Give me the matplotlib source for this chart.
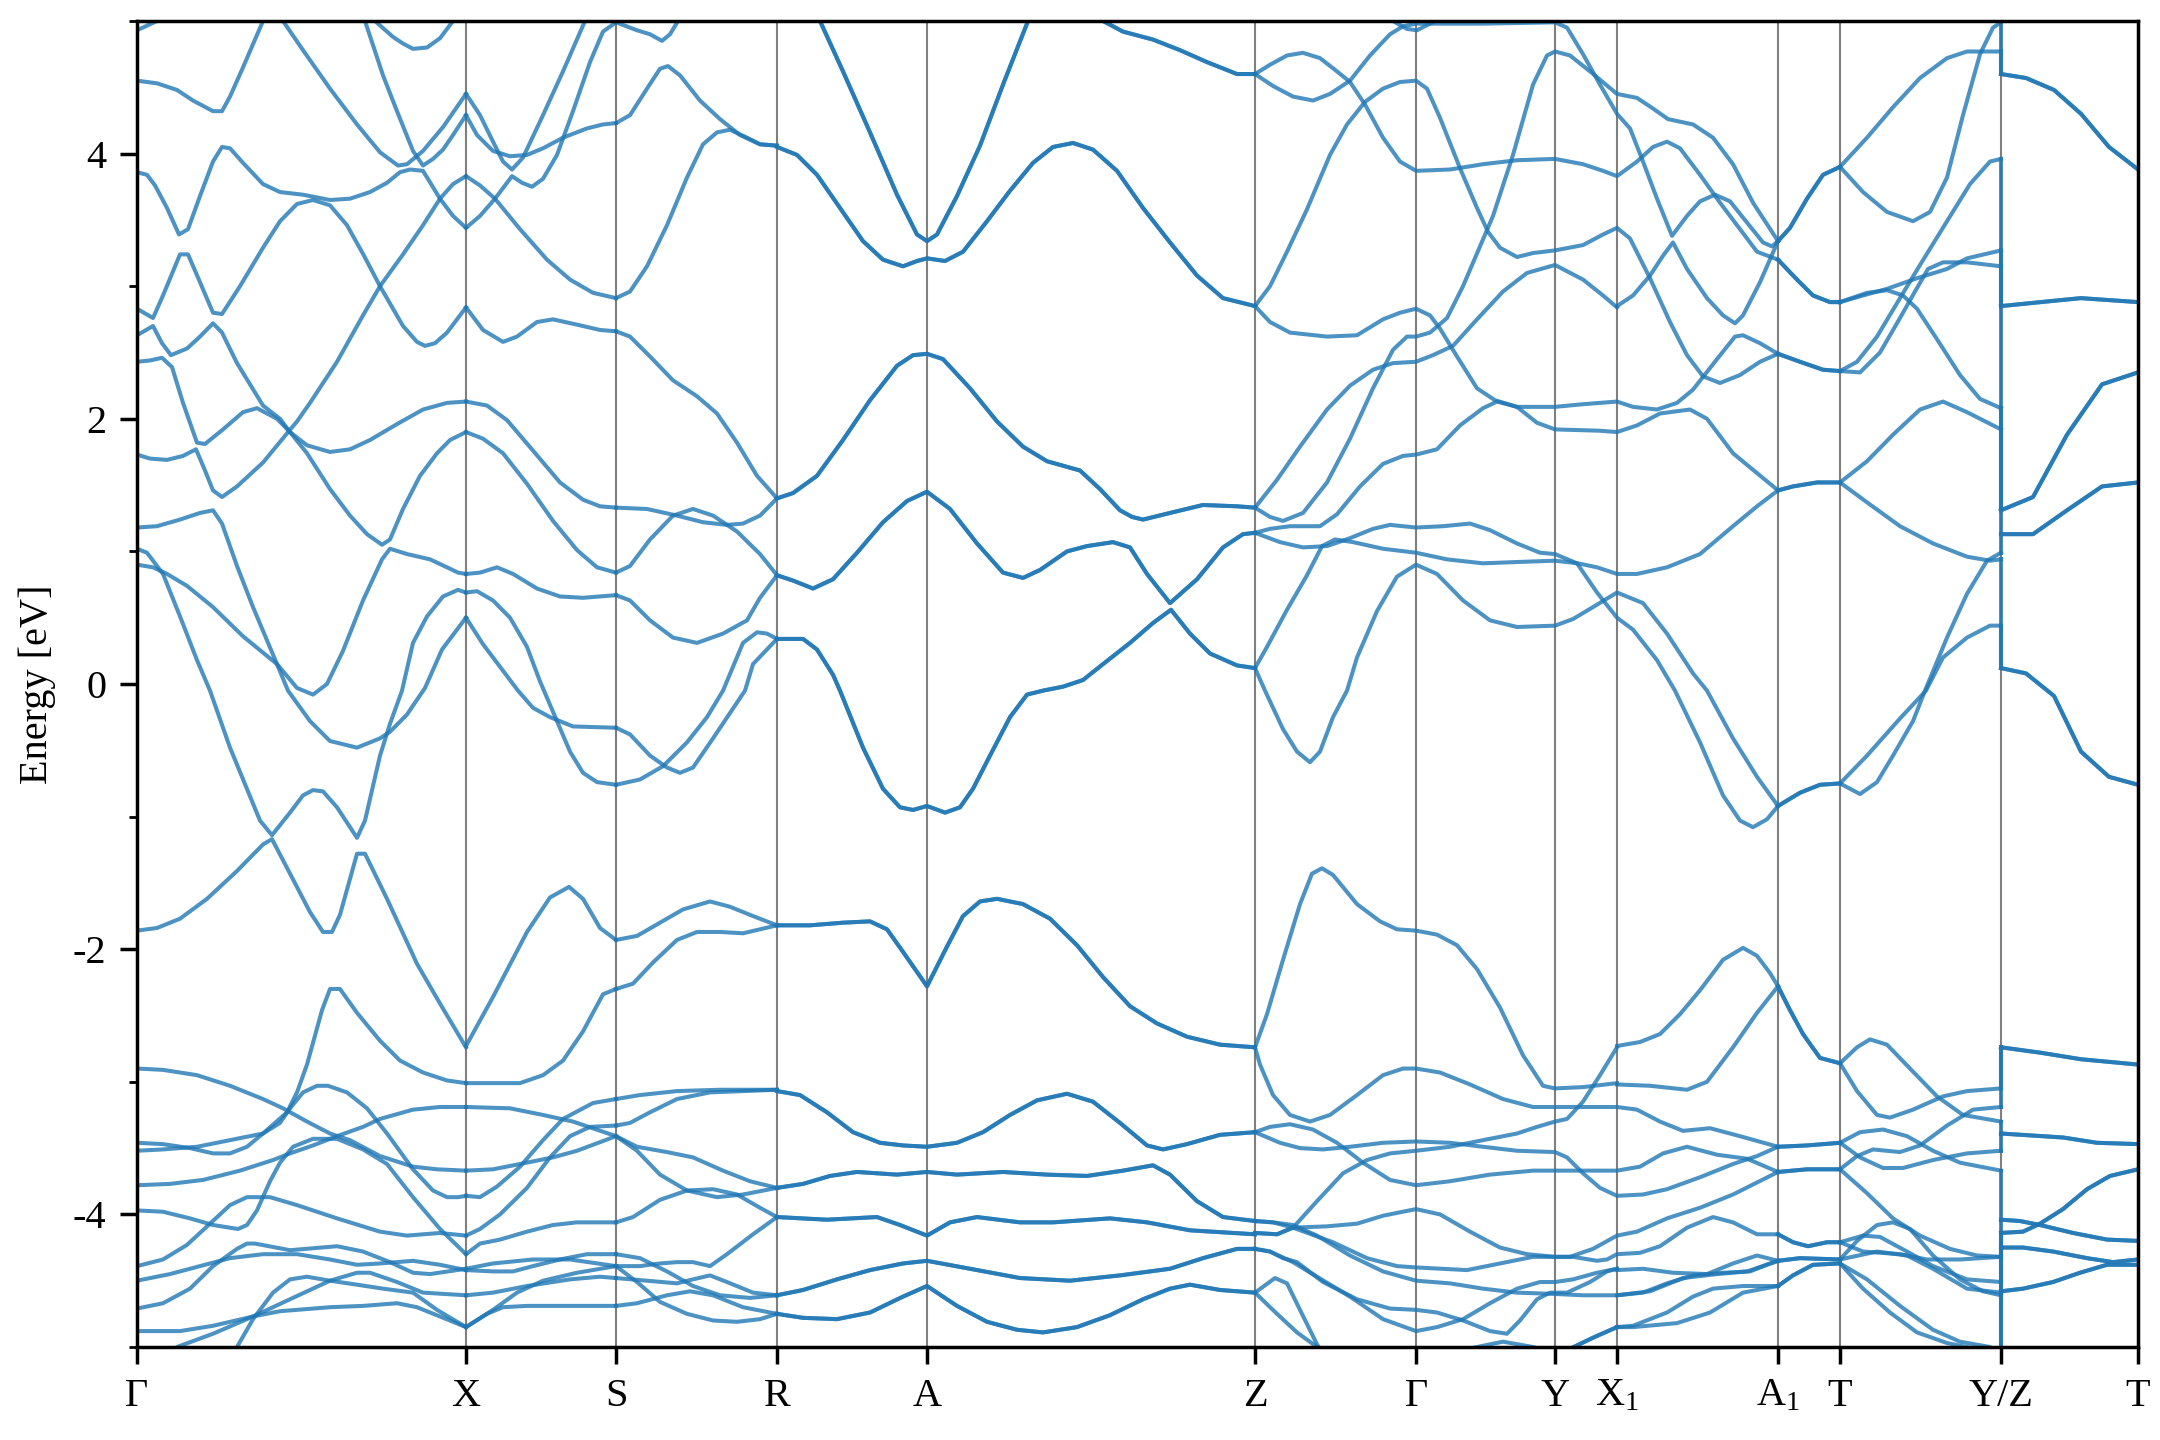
import matplotlib
matplotlib.use('Agg')
import matplotlib.pyplot as plt
from matplotlib.ticker import MultipleLocator

plt.rcParams['font.family'] = 'Liberation Serif'
plt.rcParams['mathtext.fontset'] = 'custom'
plt.rcParams['mathtext.rm'] = 'Liberation Serif'
plt.rcParams['mathtext.default'] = 'rm'
plt.rcParams['axes.unicode_minus'] = False

# high symmetry points along the k path
K_TICKS = [0, 329, 479, 640, 790, 1118, 1279, 1418, 1480, 1641, 1703, 1864, 2001]
K_LABELS = ['Γ', 'X', 'S', 'R', 'A', 'Z', 'Γ', 'Y', 'X$_1$', 'A$_1$', 'T', 'Y/Z', 'T']

# bands, each one is (k values, energies in eV)
BANDS_GAMMA_X = [
    ([0, 20, 40], [4.93, 5.0, 5.2]),
    ([0, 20, 40, 56, 76, 85, 93, 106, 126, 136, 146, 166, 193, 220, 243, 261, 270, 286, 306, 329],
     [4.55, 4.53, 4.48, 4.40, 4.32, 4.32, 4.43, 4.65, 5.0, 5.1, 5.0, 4.78, 4.49, 4.22, 4.01, 3.91, 3.92, 4.02, 4.20, 4.45]),
    ([223, 228, 246, 260, 276, 286, 296, 306, 316, 329],
     [5.15, 5.0, 4.59, 4.32, 4.02, 3.91, 3.96, 4.03, 4.14, 4.29]),
    ([230, 238, 256, 266, 276, 290, 303, 316, 325],
     [5.12, 5.0, 4.88, 4.83, 4.79, 4.80, 4.87, 5.0, 5.12]),
    ([0, 10, 18, 30, 42, 51, 63, 76, 85, 93, 106, 126, 143, 166, 193, 213, 233, 250, 263, 273, 286, 303, 316, 329],
     [3.86, 3.84, 3.76, 3.59, 3.39, 3.43, 3.68, 3.94, 4.05, 4.04, 3.93, 3.77, 3.71, 3.69, 3.65, 3.66, 3.71, 3.78, 3.86, 3.88, 3.87, 3.66, 3.53, 3.44]),
    ([0, 16, 26, 43, 51, 63, 76, 85, 103, 126, 143, 160, 176, 193, 210, 227, 243, 266, 280, 288, 298, 310, 329],
     [2.83, 2.76, 2.93, 3.24, 3.24, 3.03, 2.80, 2.79, 3.0, 3.29, 3.49, 3.62, 3.65, 3.61, 3.46, 3.23, 3.0, 2.70, 2.58, 2.55, 2.57, 2.65, 2.84]),
    ([0, 16, 25, 34, 50, 63, 76, 85, 100, 126, 143, 153, 170, 193, 213, 230, 245, 253, 266, 283, 300, 313, 329],
     [2.63, 2.70, 2.57, 2.48, 2.53, 2.62, 2.72, 2.65, 2.42, 2.10, 2.0, 1.90, 1.74, 1.47, 1.27, 1.13, 1.05, 1.09, 1.32, 1.57, 1.74, 1.84, 1.90]),
    ([0, 13, 25, 35, 46, 60, 68, 86, 106, 120, 140, 153, 170, 193, 213, 233, 260, 286, 310, 329],
     [2.43, 2.44, 2.46, 2.39, 2.12, 1.82, 1.81, 1.92, 2.05, 2.08, 2.0, 1.90, 1.80, 1.75, 1.77, 1.84, 1.96, 2.07, 2.12, 2.13]),
    ([0, 13, 30, 46, 59, 68, 76, 85, 100, 126, 150, 160, 173, 200, 226, 243, 266, 286, 303, 316, 329],
     [1.73, 1.70, 1.69, 1.72, 1.77, 1.61, 1.46, 1.41, 1.49, 1.67, 1.89, 1.98, 2.12, 2.43, 2.78, 3.0, 3.24, 3.46, 3.66, 3.77, 3.83]),
    ([0, 20, 43, 63, 76, 85, 100, 116, 140, 151, 173, 193, 220, 243, 253, 270, 288, 305, 329],
     [1.18, 1.19, 1.24, 1.29, 1.31, 1.21, 0.89, 0.58, 0.15, -0.05, -0.28, -0.43, -0.48, -0.41, -0.36, -0.23, -0.03, 0.26, 0.50]),
    ([0, 16, 30, 50, 76, 106, 140, 160, 176, 190, 206, 226, 245, 253, 270, 293, 310, 321, 329],
     [0.90, 0.88, 0.83, 0.74, 0.58, 0.36, 0.15, -0.03, -0.08, 0.0, 0.25, 0.63, 0.94, 1.02, 0.98, 0.94, 0.88, 0.84, 0.83]),
    ([0, 10, 26, 43, 60, 73, 93, 123, 135, 153, 166, 176, 186, 200, 220, 228, 243, 253, 265, 276, 290, 306, 321, 329],
     [1.02, 0.99, 0.83, 0.51, 0.18, -0.05, -0.48, -1.03, -1.14, -0.97, -0.84, -0.80, -0.81, -0.93, -1.16, -1.03, -0.54, -0.30, -0.05, 0.31, 0.51, 0.66, 0.71, 0.69]),
    ([0, 20, 43, 70, 100, 126, 135, 153, 173, 186, 195, 203, 220, 228, 250, 280, 303, 329],
     [-1.86, -1.84, -1.77, -1.62, -1.41, -1.21, -1.17, -1.43, -1.72, -1.87, -1.87, -1.74, -1.28, -1.28, -1.62, -2.11, -2.41, -2.74]),
    ([0, 26, 60, 93, 126, 146, 170, 193, 213, 243, 276, 300, 329],
     [-2.90, -2.91, -2.95, -3.03, -3.13, -3.20, -3.30, -3.39, -3.44, -3.56, -3.64, -3.66, -3.67]),
    ([0, 26, 53, 76, 93, 110, 126, 150, 160, 170, 185, 193, 203, 220, 243, 263, 286, 310, 329],
     [-3.46, -3.47, -3.50, -3.54, -3.54, -3.49, -3.39, -3.23, -3.08, -2.87, -2.46, -2.30, -2.30, -2.48, -2.69, -2.84, -2.93, -2.99, -3.01]),
    ([0, 26, 60, 93, 126, 143, 153, 166, 180, 191, 210, 230, 250, 276, 296, 310, 321, 329],
     [-3.52, -3.51, -3.49, -3.44, -3.39, -3.31, -3.20, -3.08, -3.03, -3.03, -3.08, -3.20, -3.39, -3.66, -3.82, -3.87, -3.87, -3.86]),
    ([0, 33, 66, 103, 136, 153, 176, 200, 226, 243, 276, 303, 329],
     [-3.78, -3.77, -3.74, -3.67, -3.59, -3.54, -3.48, -3.41, -3.34, -3.28, -3.21, -3.19, -3.19]),
    ([0, 26, 53, 76, 101, 110, 120, 133, 143, 156, 176, 200, 226, 250, 276, 303, 329],
     [-3.97, -3.98, -4.03, -4.08, -4.11, -4.08, -3.97, -3.75, -3.61, -3.49, -3.43, -3.43, -3.51, -3.62, -3.87, -4.11, -4.30]),
    ([0, 26, 50, 73, 93, 110, 133, 160, 200, 243, 270, 303, 329],
     [-4.39, -4.34, -4.23, -4.07, -3.93, -3.87, -3.87, -3.93, -4.03, -4.13, -4.16, -4.14, -4.16]),
    ([0, 33, 63, 93, 126, 160, 193, 220, 243, 276, 303, 329],
     [-4.50, -4.45, -4.39, -4.33, -4.30, -4.30, -4.34, -4.38, -4.37, -4.35, -4.38, -4.42]),
    ([0, 26, 53, 76, 100, 110, 118, 153, 200, 226, 253, 276, 293, 329],
     [-4.71, -4.67, -4.56, -4.39, -4.26, -4.22, -4.22, -4.27, -4.24, -4.28, -4.36, -4.44, -4.45, -4.41]),
    ([0, 43, 76, 116, 143, 193, 226, 260, 280, 303, 329],
     [-4.88, -4.88, -4.84, -4.77, -4.73, -4.70, -4.69, -4.67, -4.70, -4.77, -4.85]),
    ([30, 40, 76, 116, 153, 193, 220, 233, 260, 286, 329],
     [-5.1, -5.0, -4.90, -4.77, -4.64, -4.50, -4.44, -4.44, -4.51, -4.59, -4.61]),
    ([95, 100, 116, 136, 153, 170, 193, 220, 246, 276, 300, 329],
     [-5.1, -5.0, -4.79, -4.59, -4.49, -4.47, -4.50, -4.53, -4.56, -4.59, -4.72, -4.85]),
]

BANDS_X_S = [
    ([329, 343, 356, 366, 375, 386, 406, 426, 448, 455],
     [4.45, 4.29, 4.09, 3.94, 3.88, 3.97, 4.29, 4.62, 5.0, 5.12]),
    ([329, 340, 356, 373, 390, 406, 426, 450, 466, 479],
     [4.29, 4.14, 4.02, 3.98, 3.99, 4.04, 4.12, 4.19, 4.22, 4.23]),
    ([329, 343, 358, 383, 410, 433, 456, 479],
     [3.83, 3.76, 3.66, 3.43, 3.20, 3.05, 2.95, 2.91]),
    ([329, 343, 358, 375, 385, 395, 406, 420, 436, 453, 466, 479],
     [3.44, 3.53, 3.66, 3.83, 3.78, 3.75, 3.81, 3.99, 4.32, 4.69, 4.92, 4.99]),
    ([329, 346, 366, 380, 400, 416, 440, 463, 479],
     [2.84, 2.67, 2.58, 2.62, 2.73, 2.75, 2.71, 2.67, 2.66]),
    ([329, 350, 370, 396, 423, 446, 463, 479],
     [2.13, 2.10, 1.99, 1.76, 1.52, 1.39, 1.34, 1.33]),
    ([329, 346, 366, 390, 416, 440, 460, 479],
     [1.90, 1.85, 1.74, 1.51, 1.23, 1.01, 0.88, 0.84]),
    ([329, 343, 360, 376, 400, 423, 446, 479],
     [0.83, 0.84, 0.88, 0.83, 0.72, 0.66, 0.65, 0.67]),
    ([329, 340, 356, 373, 390, 403, 420, 433, 446, 460, 479],
     [0.69, 0.70, 0.63, 0.50, 0.28, 0.02, -0.28, -0.51, -0.67, -0.74, -0.76]),
    ([329, 346, 366, 381, 396, 413, 436, 479],
     [0.50, 0.30, 0.10, -0.05, -0.18, -0.25, -0.32, -0.33]),
    ([329, 356, 390, 413, 432, 446, 463, 479],
     [-2.73, -2.36, -1.87, -1.61, -1.53, -1.62, -1.84, -1.93]),
    ([329, 356, 383, 406, 426, 446, 466, 479],
     [-3.01, -3.01, -3.01, -2.95, -2.84, -2.62, -2.34, -2.30]),
    ([329, 373, 406, 436, 479], [-3.19, -3.20, -3.25, -3.30, -3.41]),
    ([329, 343, 360, 383, 406, 426, 456, 479],
     [-3.86, -3.87, -3.79, -3.64, -3.44, -3.28, -3.16, -3.13]),
    ([329, 343, 363, 390, 413, 433, 453, 479],
     [-4.16, -4.11, -4.0, -3.80, -3.57, -3.41, -3.34, -3.33]),
    ([329, 356, 383, 416, 440, 479], [-3.67, -3.66, -3.62, -3.57, -3.52, -3.41]),
    ([329, 343, 363, 390, 416, 440, 479], [-4.30, -4.22, -4.19, -4.13, -4.08, -4.06, -4.06]),
    ([329, 356, 376, 396, 423, 450, 479], [-4.42, -4.43, -4.43, -4.39, -4.34, -4.30, -4.30]),
    ([329, 356, 396, 433, 479], [-4.41, -4.37, -4.34, -4.34, -4.39]),
    ([329, 356, 390, 433, 463, 479], [-4.61, -4.59, -4.54, -4.49, -4.47, -4.48]),
    ([329, 356, 380, 406, 440, 479], [-4.85, -4.72, -4.59, -4.50, -4.44, -4.39]),
    ([329, 350, 366, 390, 433, 479], [-4.85, -4.75, -4.70, -4.69, -4.69, -4.69]),
]

BANDS_S_R = [
    ([479, 500, 513, 525, 533, 541, 548], [4.99, 4.93, 4.90, 4.85, 4.90, 5.0, 5.12]),
    ([479, 493, 510, 523, 531, 543, 563, 583, 603, 623, 640],
     [4.23, 4.29, 4.49, 4.64, 4.66, 4.59, 4.40, 4.26, 4.14, 4.07, 4.06]),
    ([479, 493, 510, 530, 550, 566, 580, 593, 610, 623, 640],
     [2.91, 2.96, 3.15, 3.46, 3.82, 4.07, 4.16, 4.18, 4.12, 4.07, 4.06]),
    ([479, 493, 513, 536, 560, 580, 600, 620, 640],
     [2.66, 2.62, 2.47, 2.29, 2.17, 2.04, 1.82, 1.57, 1.40]),
    ([479, 510, 540, 566, 590, 606, 623, 640],
     [1.33, 1.32, 1.27, 1.22, 1.20, 1.21, 1.27, 1.40]),
    ([479, 493, 513, 536, 556, 576, 600, 623, 640],
     [0.84, 0.89, 1.09, 1.27, 1.32, 1.27, 1.15, 0.98, 0.82]),
    ([479, 493, 513, 536, 560, 586, 610, 623, 640],
     [0.67, 0.63, 0.48, 0.35, 0.31, 0.38, 0.48, 0.65, 0.82]),
    ([479, 503, 526, 550, 570, 586, 606, 620, 630, 640],
     [-0.76, -0.72, -0.62, -0.44, -0.25, -0.05, 0.31, 0.39, 0.38, 0.34]),
    ([479, 493, 513, 530, 543, 556, 576, 608, 616, 640],
     [-0.33, -0.38, -0.54, -0.63, -0.67, -0.63, -0.41, -0.05, 0.15, 0.34]),
    ([479, 500, 523, 546, 573, 593, 616, 640],
     [-1.93, -1.90, -1.80, -1.70, -1.64, -1.68, -1.75, -1.82]),
    ([479, 496, 516, 540, 560, 583, 606, 640],
     [-2.30, -2.26, -2.10, -1.93, -1.87, -1.87, -1.88, -1.82]),
    ([479, 503, 540, 583, 640], [-3.13, -3.10, -3.07, -3.06, -3.06]),
    ([479, 493, 513, 540, 573, 640], [-3.33, -3.31, -3.23, -3.13, -3.08, -3.06]),
    ([479, 500, 530, 556, 586, 613, 640], [-3.41, -3.49, -3.53, -3.57, -3.67, -3.75, -3.80]),
    ([479, 500, 523, 550, 580, 606, 640], [-3.41, -3.52, -3.70, -3.82, -3.87, -3.85, -3.80]),
    ([479, 496, 523, 550, 576, 600, 623, 640],
     [-4.06, -4.02, -3.89, -3.82, -3.81, -3.85, -3.95, -4.02]),
    ([479, 503, 530, 556, 583, 613, 640], [-4.30, -4.33, -4.43, -4.54, -4.61, -4.63, -4.61]),
    ([479, 503, 523, 540, 556, 573, 590, 616, 640],
     [-4.39, -4.39, -4.37, -4.36, -4.36, -4.39, -4.30, -4.15, -4.02]),
    ([479, 500, 523, 550, 576, 600, 623, 640],
     [-4.39, -4.51, -4.66, -4.75, -4.80, -4.81, -4.79, -4.75]),
    ([479, 510, 540, 556, 573, 590, 616, 640],
     [-4.48, -4.50, -4.52, -4.49, -4.46, -4.51, -4.59, -4.61]),
    ([479, 500, 530, 553, 576, 606, 640], [-4.69, -4.67, -4.61, -4.58, -4.61, -4.70, -4.75]),
]

# R to Z, these bands are degenerate so they get drawn twice
BANDS_R_Z = [
    ([640, 660, 680, 703, 726, 746, 766, 780, 790, 808, 826, 850, 873, 896, 916, 936, 956, 980, 1006, 1033, 1060, 1086, 1118],
     [4.05, 3.99, 3.84, 3.59, 3.34, 3.20, 3.15, 3.19, 3.21, 3.19, 3.26, 3.49, 3.72, 3.93, 4.05, 4.08, 4.03, 3.87, 3.59, 3.33, 3.08, 2.91, 2.85]),
    ([673, 683, 706, 733, 760, 780, 790, 800, 820, 843, 866, 891, 905],
     [5.18, 5.0, 4.62, 4.16, 3.69, 3.39, 3.34, 3.39, 3.68, 4.06, 4.52, 5.0, 5.2]),
    ([955, 966, 986, 1016, 1043, 1070, 1100, 1118], [5.05, 5.0, 4.92, 4.86, 4.78, 4.69, 4.60, 4.60]),
    ([640, 656, 680, 706, 733, 760, 776, 790, 806, 833, 860, 886, 910, 943, 963, 983, 995, 1006, 1033, 1066, 1100, 1118],
     [1.40, 1.44, 1.57, 1.84, 2.14, 2.40, 2.48, 2.49, 2.45, 2.23, 1.98, 1.79, 1.68, 1.61, 1.47, 1.31, 1.26, 1.24, 1.29, 1.35, 1.34, 1.33]),
    ([640, 656, 676, 696, 720, 746, 770, 790, 813, 840, 866, 886, 903, 930, 950, 976, 993, 1010, 1033, 1060, 1086, 1106, 1118],
     [0.82, 0.78, 0.72, 0.79, 0.99, 1.22, 1.38, 1.45, 1.32, 1.06, 0.84, 0.80, 0.86, 1.0, 1.04, 1.07, 1.03, 0.83, 0.61, 0.79, 1.03, 1.13, 1.14]),
    ([640, 666, 680, 696, 703, 726, 746, 763, 776, 790, 808, 823, 836, 853, 873, 890, 906, 926, 946, 966, 993, 1016, 1034, 1053, 1073, 1100, 1118],
     [0.34, 0.34, 0.26, 0.07, -0.05, -0.48, -0.79, -0.93, -0.95, -0.92, -0.97, -0.93, -0.79, -0.54, -0.25, -0.08, -0.05, -0.02, 0.03, 0.15, 0.31, 0.46, 0.56, 0.38, 0.23, 0.14, 0.12]),
    ([640, 673, 706, 733, 750, 766, 790, 810, 826, 843, 860, 886, 913, 940, 966, 993, 1020, 1050, 1083, 1118],
     [-1.82, -1.82, -1.80, -1.79, -1.85, -2.02, -2.28, -1.98, -1.75, -1.64, -1.62, -1.66, -1.77, -1.97, -2.21, -2.43, -2.56, -2.66, -2.72, -2.74]),
    ([640, 663, 690, 716, 743, 766, 790, 820, 846, 873, 900, 930, 956, 983, 1010, 1026, 1050, 1083, 1118],
     [-3.07, -3.10, -3.23, -3.38, -3.46, -3.48, -3.49, -3.46, -3.38, -3.25, -3.14, -3.09, -3.15, -3.31, -3.48, -3.51, -3.47, -3.40, -3.38]),
    ([640, 666, 693, 720, 760, 790, 820, 866, 910, 950, 986, 1016, 1033, 1060, 1086, 1118],
     [-3.80, -3.77, -3.71, -3.68, -3.70, -3.68, -3.70, -3.68, -3.70, -3.71, -3.67, -3.63, -3.70, -3.90, -4.02, -4.05]),
    ([640, 690, 740, 763, 790, 813, 840, 883, 916, 973, 1010, 1053, 1118],
     [-4.02, -4.04, -4.02, -4.08, -4.16, -4.06, -4.02, -4.06, -4.06, -4.03, -4.06, -4.12, -4.15]),
    ([640, 666, 700, 733, 766, 790, 833, 883, 933, 983, 1033, 1066, 1100, 1118],
     [-4.61, -4.57, -4.49, -4.42, -4.37, -4.35, -4.41, -4.48, -4.50, -4.46, -4.41, -4.33, -4.26, -4.26]),
    ([640, 666, 700, 733, 766, 790, 820, 850, 880, 906, 940, 973, 1006, 1033, 1053, 1083, 1118],
     [-4.75, -4.78, -4.79, -4.74, -4.62, -4.54, -4.69, -4.81, -4.87, -4.89, -4.85, -4.76, -4.64, -4.56, -4.53, -4.57, -4.59]),
]

# Z through Gamma, Y and X1 up to A1
BANDS_Z_A1 = [
    ([1118, 1133, 1150, 1166, 1183, 1200, 1213, 1228, 1246, 1263, 1279, 1313, 1346, 1380, 1418, 1446, 1466, 1480, 1500, 1516, 1530, 1543, 1563, 1583, 1603, 1620, 1641],
     [4.60, 4.67, 4.74, 4.76, 4.72, 4.62, 4.54, 4.37, 4.12, 3.94, 3.87, 3.88, 3.92, 3.95, 3.96, 3.92, 3.87, 3.83, 3.94, 4.05, 4.09, 4.04, 3.84, 3.63, 3.43, 3.26, 3.20]),
    ([1118, 1136, 1156, 1176, 1193, 1213, 1233, 1253, 1266, 1279, 1346, 1418, 1430, 1446, 1463, 1480, 1493, 1506, 1520, 1535, 1550, 1563, 1578, 1593, 1610, 1626, 1635, 1641],
     [4.60, 4.51, 4.43, 4.40, 4.45, 4.55, 4.74, 4.90, 4.96, 4.98, 4.98, 4.99, 4.95, 4.75, 4.52, 4.30, 4.19, 3.94, 3.66, 3.38, 3.53, 3.64, 3.69, 3.64, 3.48, 3.33, 3.30, 3.34]),
    ([1248, 1256, 1270, 1280, 1293, 1303, 1310], [5.1, 5.0, 4.94, 4.93, 4.98, 5.02, 5.1]),
    ([1480, 1496, 1513, 1526, 1536, 1550, 1570, 1586, 1598, 1606, 1623, 1641],
     [2.85, 2.93, 3.08, 3.23, 3.33, 3.13, 2.91, 2.78, 2.72, 2.78, 3.03, 3.34]),
    ([1118, 1133, 1150, 1170, 1193, 1210, 1228, 1246, 1263, 1279, 1290, 1303, 1323, 1340, 1351, 1363, 1380, 1396, 1418, 1446, 1466, 1480, 1493, 1513, 1533, 1550, 1566, 1583, 1603, 1623, 1641],
     [2.85, 3.0, 3.26, 3.58, 3.99, 4.22, 4.39, 4.49, 4.54, 4.55, 4.49, 4.27, 3.89, 3.59, 3.41, 3.29, 3.22, 3.25, 3.27, 3.31, 3.39, 3.44, 3.36, 3.06, 2.73, 2.48, 2.32, 2.27, 2.33, 2.43, 2.49]),
    ([1118, 1133, 1153, 1190, 1220, 1246, 1263, 1279, 1293, 1303, 1320, 1340, 1358, 1380, 1418, 1446, 1480, 1496, 1520, 1540, 1556, 1580, 1598, 1606, 1623, 1641],
     [2.85, 2.73, 2.65, 2.62, 2.63, 2.75, 2.80, 2.83, 2.78, 2.68, 2.47, 2.23, 2.14, 2.09, 2.09, 2.11, 2.13, 2.09, 2.07, 2.12, 2.22, 2.45, 2.62, 2.63, 2.57, 2.49]),
    ([1118, 1140, 1163, 1190, 1213, 1236, 1256, 1279, 1296, 1316, 1340, 1366, 1390, 1418, 1446, 1466, 1480],
     [1.33, 1.54, 1.79, 2.07, 2.25, 2.37, 2.42, 2.43, 2.48, 2.55, 2.75, 2.96, 3.10, 3.16, 3.05, 2.93, 2.84]),
    ([1118, 1133, 1146, 1166, 1190, 1213, 1236, 1256, 1270, 1279, 1293, 1310, 1326, 1343, 1356, 1376, 1396, 1410, 1418, 1433, 1453, 1480, 1500, 1516, 1531, 1556, 1576, 1596, 1616, 1641],
     [1.33, 1.26, 1.23, 1.29, 1.52, 1.85, 2.23, 2.52, 2.62, 2.62, 2.65, 2.76, 3.0, 3.30, 3.53, 3.99, 4.52, 4.74, 4.77, 4.74, 4.62, 4.45, 4.42, 4.34, 4.26, 4.22, 4.12, 3.92, 3.63, 3.34]),
    ([1118, 1133, 1153, 1183, 1200, 1223, 1246, 1266, 1279, 1300, 1323, 1346, 1360, 1380, 1400, 1418, 1463, 1480, 1500, 1523, 1553, 1570, 1596, 1641],
     [1.14, 1.17, 1.19, 1.19, 1.28, 1.49, 1.66, 1.72, 1.73, 1.77, 1.95, 2.08, 2.13, 2.09, 1.97, 1.92, 1.91, 1.90, 1.95, 2.04, 2.07, 2.0, 1.74, 1.46]),
    ([1118, 1143, 1166, 1190, 1213, 1236, 1253, 1279, 1306, 1333, 1353, 1380, 1403, 1418, 1440, 1460, 1480, 1496, 1520, 1538, 1563, 1586, 1603, 1616, 1630, 1641],
     [1.14, 1.07, 1.03, 1.04, 1.10, 1.17, 1.20, 1.18, 1.19, 1.21, 1.16, 1.06, 0.99, 0.98, 0.91, 0.69, 0.50, 0.41, 0.18, -0.05, -0.44, -0.84, -1.03, -1.08, -1.02, -0.92]),
    ([1118, 1130, 1150, 1170, 1185, 1198, 1216, 1246, 1279, 1310, 1346, 1380, 1418, 1441, 1460, 1480, 1500, 1530, 1563, 1596, 1620, 1641],
     [0.12, 0.28, 0.56, 0.82, 1.04, 1.09, 1.07, 1.02, 0.99, 0.94, 0.91, 0.92, 0.93, 0.91, 0.88, 0.83, 0.83, 0.88, 0.98, 1.19, 1.34, 1.46]),
    ([1118, 1128, 1146, 1160, 1173, 1183, 1196, 1210, 1220, 1240, 1260, 1279, 1300, 1326, 1353, 1380, 1418, 1436, 1456, 1480, 1506, 1530, 1556, 1570, 1596, 1620, 1641],
     [0.12, -0.05, -0.34, -0.51, -0.59, -0.51, -0.25, -0.05, 0.20, 0.55, 0.81, 0.90, 0.83, 0.63, 0.48, 0.43, 0.44, 0.49, 0.58, 0.69, 0.61, 0.38, 0.08, -0.05, -0.41, -0.70, -0.92]),
    ([1118, 1130, 1146, 1163, 1175, 1185, 1196, 1220, 1243, 1260, 1279, 1300, 1320, 1340, 1363, 1386, 1406, 1418, 1446, 1480],
     [-2.74, -2.49, -2.08, -1.66, -1.43, -1.39, -1.44, -1.66, -1.79, -1.85, -1.86, -1.89, -1.97, -2.15, -2.44, -2.80, -3.03, -3.05, -3.04, -3.01]),
    ([1480, 1513, 1550, 1570, 1596, 1620, 1641], [-3.02, -3.03, -3.06, -3.0, -2.74, -2.48, -2.28]),
    ([1480, 1503, 1523, 1543, 1563, 1586, 1606, 1620, 1633, 1641],
     [-2.73, -2.70, -2.64, -2.49, -2.31, -2.08, -1.99, -2.05, -2.18, -2.28]),
    ([1118, 1123, 1136, 1153, 1173, 1193, 1220, 1246, 1266, 1279, 1303, 1333, 1366, 1396, 1418, 1446, 1480, 1500, 1523, 1546, 1573, 1603, 1641],
     [-2.74, -2.87, -3.10, -3.25, -3.30, -3.25, -3.10, -2.95, -2.90, -2.90, -2.93, -3.02, -3.13, -3.19, -3.19, -3.19, -3.19, -3.21, -3.30, -3.37, -3.35, -3.41, -3.49]),
    ([1118, 1133, 1153, 1176, 1200, 1226, 1253, 1279, 1313, 1353, 1396, 1446, 1480, 1503, 1526, 1550, 1580, 1610, 1641],
     [-3.38, -3.34, -3.32, -3.36, -3.46, -3.61, -3.74, -3.78, -3.75, -3.70, -3.67, -3.67, -3.67, -3.64, -3.54, -3.49, -3.55, -3.58, -3.68]),
    ([1118, 1143, 1163, 1186, 1213, 1246, 1279, 1313, 1346, 1380, 1418, 1430, 1446, 1463, 1480, 1506, 1530, 1563, 1596, 1620, 1641],
     [-3.38, -3.46, -3.50, -3.51, -3.49, -3.46, -3.45, -3.46, -3.49, -3.52, -3.53, -3.57, -3.69, -3.80, -3.86, -3.85, -3.81, -3.72, -3.62, -3.56, -3.49]),
    ([1118, 1136, 1156, 1180, 1213, 1246, 1279, 1313, 1346, 1380, 1418, 1446, 1480, 1506, 1530, 1556, 1586, 1613, 1630, 1641],
     [-4.05, -4.06, -4.08, -4.16, -4.31, -4.43, -4.50, -4.52, -4.56, -4.59, -4.60, -4.61, -4.61, -4.59, -4.52, -4.46, -4.44, -4.43, -4.38, -4.35]),
    ([1118, 1140, 1156, 1180, 1206, 1230, 1253, 1279, 1313, 1346, 1380, 1400, 1418, 1430, 1446, 1463, 1480],
     [-4.14, -4.15, -4.10, -3.90, -3.69, -3.59, -3.54, -3.52, -3.49, -3.44, -3.39, -3.34, -3.30, -3.28, -3.15, -2.95, -2.74]),
    ([1118, 1140, 1156, 1190, 1220, 1246, 1279, 1303, 1333, 1363, 1390, 1418, 1433, 1456, 1480, 1500, 1530, 1563, 1596, 1641],
     [-4.14, -4.15, -4.10, -4.09, -4.07, -4.01, -3.96, -4.0, -4.13, -4.25, -4.30, -4.32, -4.32, -4.26, -4.16, -4.13, -4.03, -3.95, -3.85, -3.68]),
    ([1118, 1136, 1156, 1196, 1230, 1260, 1279, 1330, 1363, 1396, 1418, 1436, 1460, 1470, 1480, 1503, 1523, 1550, 1576, 1596, 1620, 1641],
     [-4.05, -4.06, -4.10, -4.21, -4.33, -4.39, -4.40, -4.42, -4.37, -4.32, -4.32, -4.32, -4.35, -4.34, -4.30, -4.29, -4.24, -4.10, -4.02, -4.06, -4.15, -4.15]),
    ([1118, 1133, 1146, 1160, 1186, 1220, 1253, 1279, 1300, 1326, 1353, 1370, 1383, 1400, 1413, 1430, 1453, 1470, 1480],
     [-4.26, -4.28, -4.33, -4.36, -4.51, -4.64, -4.71, -4.72, -4.74, -4.80, -4.88, -4.90, -4.80, -4.64, -4.59, -4.59, -4.51, -4.43, -4.41]),
    ([1118, 1133, 1156, 1180, 1213, 1246, 1279, 1300, 1326, 1353, 1380, 1403, 1418, 1436, 1460, 1480],
     [-4.26, -4.28, -4.36, -4.47, -4.62, -4.79, -4.88, -4.85, -4.79, -4.67, -4.56, -4.51, -4.51, -4.49, -4.44, -4.41]),
    ([1118, 1138, 1150, 1163, 1180, 1190], [-4.59, -4.48, -4.52, -4.72, -4.98, -5.1]),
    ([1118, 1140, 1160, 1180, 1190], [-4.59, -4.75, -4.89, -5.0, -5.1]),
    ([1310, 1340, 1366, 1396, 1420], [-5.05, -5.0, -4.96, -5.0, -5.05]),
    ([1423, 1456, 1480], [-5.05, -4.93, -4.85]),
    ([1423, 1456, 1480], [-5.05, -4.93, -4.85]),
    ([1480, 1506, 1536, 1570, 1596, 1620, 1641], [-4.42, -4.41, -4.44, -4.45, -4.37, -4.31, -4.35]),
    ([1480, 1513, 1546, 1580, 1610, 1641], [-4.61, -4.58, -4.48, -4.45, -4.43, -4.35]),
    ([1480, 1496, 1530, 1556, 1576, 1606, 1641], [-4.85, -4.84, -4.74, -4.62, -4.56, -4.54, -4.54]),
    ([1480, 1496, 1540, 1573, 1606, 1641], [-4.85, -4.85, -4.82, -4.74, -4.59, -4.54]),
]

# A1 to T, degenerate again
BANDS_A1_T = [
    ([1641, 1653, 1670, 1686, 1703], [3.34, 3.44, 3.66, 3.84, 3.90]),
    ([1641, 1660, 1676, 1693, 1703], [3.20, 3.05, 2.93, 2.88, 2.88]),
    ([1641, 1663, 1686, 1703], [2.49, 2.43, 2.37, 2.36]),
    ([1641, 1656, 1680, 1703], [1.46, 1.49, 1.52, 1.52]),
    ([1641, 1663, 1683, 1703], [-0.92, -0.82, -0.76, -0.75]),
    ([1641, 1653, 1666, 1683, 1703], [-2.28, -2.46, -2.64, -2.82, -2.86]),
    ([1641, 1670, 1703], [-3.49, -3.48, -3.46]),
    ([1641, 1670, 1703], [-3.68, -3.66, -3.66]),
    ([1641, 1656, 1671, 1690, 1703], [-4.15, -4.21, -4.24, -4.21, -4.21]),
    ([1641, 1663, 1703], [-4.35, -4.33, -4.34]),
    ([1641, 1656, 1676, 1703], [-4.54, -4.46, -4.38, -4.37]),
]

BANDS_T_Y = [
    ([1703, 1730, 1756, 1783, 1810, 1830, 1864], [3.90, 4.12, 4.35, 4.57, 4.72, 4.77, 4.77]),
    ([1703, 1726, 1750, 1776, 1793, 1810, 1826, 1843, 1856, 1864],
     [3.90, 3.71, 3.56, 3.49, 3.56, 3.82, 4.29, 4.75, 4.95, 4.99]),
    ([1703, 1726, 1750, 1780, 1810, 1830, 1864], [2.88, 2.93, 2.98, 3.06, 3.13, 3.21, 3.27]),
    ([1703, 1730, 1750, 1766, 1780, 1800, 1823, 1843, 1864],
     [2.88, 2.95, 2.97, 2.93, 2.83, 2.60, 2.33, 2.15, 2.08]),
    ([1703, 1720, 1740, 1763, 1783, 1810, 1833, 1853, 1864],
     [2.36, 2.43, 2.62, 2.91, 3.16, 3.49, 3.77, 3.94, 3.96]),
    ([1703, 1723, 1743, 1763, 1778, 1791, 1806, 1830, 1864],
     [2.36, 2.35, 2.50, 2.76, 2.96, 3.13, 3.18, 3.18, 3.15]),
    ([1703, 1730, 1756, 1783, 1806, 1830, 1864], [1.52, 1.68, 1.88, 2.07, 2.13, 2.05, 1.92]),
    ([1703, 1730, 1763, 1796, 1830, 1853, 1864], [1.52, 1.37, 1.19, 1.06, 0.96, 0.93, 0.94]),
    ([1703, 1730, 1763, 1789, 1806, 1830, 1853, 1864], [-0.75, -0.54, -0.26, -0.05, 0.20, 0.35, 0.44, 0.44]),
    ([1703, 1723, 1740, 1756, 1776, 1788, 1810, 1830, 1850, 1864],
     [-0.75, -0.83, -0.74, -0.54, -0.28, -0.05, 0.35, 0.68, 0.93, 0.99]),
    ([1703, 1720, 1733, 1750, 1773, 1800, 1826, 1864], [-2.86, -2.74, -2.68, -2.72, -2.90, -3.11, -3.25, -3.30]),
    ([1703, 1720, 1740, 1753, 1776, 1806, 1830, 1864], [-2.86, -3.07, -3.25, -3.27, -3.21, -3.11, -3.07, -3.05]),
    ([1703, 1723, 1746, 1770, 1796, 1823, 1864], [-3.46, -3.38, -3.36, -3.41, -3.52, -3.61, -3.67]),
    ([1703, 1723, 1746, 1766, 1796, 1830, 1864], [-3.46, -3.57, -3.65, -3.65, -3.59, -3.54, -3.52]),
    ([1703, 1720, 1736, 1763, 1783, 1810, 1836, 1864], [-3.66, -3.56, -3.51, -3.53, -3.48, -3.33, -3.21, -3.19]),
    ([1703, 1730, 1756, 1783, 1813, 1840, 1864], [-3.66, -3.84, -4.03, -4.16, -4.26, -4.31, -4.32]),
    ([1703, 1726, 1743, 1770, 1796, 1830, 1864], [-4.21, -4.16, -4.17, -4.28, -4.39, -4.49, -4.51]),
    ([1703, 1726, 1763, 1790, 1823, 1864], [-4.21, -4.28, -4.30, -4.34, -4.34, -4.32]),
    ([1703, 1720, 1740, 1756, 1773, 1796, 1823, 1846, 1864], [-4.34, -4.20, -4.08, -4.06, -4.11, -4.31, -4.49, -4.58, -4.61]),
    ([1703, 1740, 1770, 1796, 1830, 1864], [-4.34, -4.28, -4.31, -4.41, -4.56, -4.59]),
    ([1703, 1726, 1753, 1780, 1810, 1836, 1850], [-4.37, -4.56, -4.74, -4.89, -4.97, -5.01, -5.05]),
    ([1703, 1730, 1763, 1796, 1823, 1853, 1864], [-4.37, -4.49, -4.69, -4.87, -4.96, -5.0, -5.05]),
]

# Z to T, degenerate again
BANDS_Z_T = [
    ([1864, 1889, 1917, 1944, 1972, 2001], [4.60, 4.57, 4.48, 4.30, 4.05, 3.88]),
    ([1864, 1917, 1944, 2001], [2.85, 2.89, 2.91, 2.88]),
    ([1864, 1896, 1930, 1965, 2001], [1.31, 1.41, 1.88, 2.26, 2.35]),
    ([1864, 1896, 1930, 1965, 2001], [1.13, 1.13, 1.31, 1.49, 1.52]),
    ([1864, 1889, 1917, 1944, 1972, 2001], [0.12, 0.08, -0.09, -0.51, -0.70, -0.76]),
    ([1864, 1903, 1944, 2001], [-2.74, -2.78, -2.83, -2.87]),
    ([1864, 1926, 1960, 2001], [-3.39, -3.42, -3.46, -3.47]),
    ([1864, 1886, 1903, 1926, 1950, 1973, 2001], [-4.14, -4.13, -4.07, -3.96, -3.81, -3.71, -3.66]),
    ([1864, 1883, 1903, 1936, 1970, 2001], [-4.04, -4.05, -4.08, -4.14, -4.19, -4.20]),
    ([1864, 1886, 1916, 1950, 1976, 2001], [-4.25, -4.25, -4.28, -4.33, -4.36, -4.34]),
    ([1864, 1886, 1916, 1943, 1970, 2001], [-4.58, -4.56, -4.51, -4.44, -4.38, -4.38]),
]

# the band file jumps at Y/Z, so each band has a vertical piece there
JUMP_K = 1864
JUMP_FROM = [4.99, 4.77, 3.96, 3.27, 3.15, 2.08, 1.92, 0.99, 0.94, 0.44,
             -3.05, -3.19, -3.30, -3.52, -3.67, -4.32, -4.32, -4.51, -4.59, -4.61, -5.05, -5.05]
JUMP_TO = [4.60, 4.60, 2.85, 2.85, 1.31, 1.31, 1.13, 1.13, 0.12, 0.12,
           -2.74, -2.74, -3.39, -3.39, -4.04, -4.04, -4.14, -4.14, -4.25, -4.25, -4.58, -4.58]

BAND_COLOR = '#1f77b4'
BAND_ALPHA = 0.8
BAND_LW = 2.9


def draw_bands(ax, bands, times=1):
    for k, e in bands:
        for _ in range(times):
            ax.plot(k, e, color=BAND_COLOR, alpha=BAND_ALPHA, lw=BAND_LW, solid_joinstyle='round')


fig = plt.figure(figsize=(21.6, 14.4), dpi=100)
ax = fig.add_axes([137 / 2160, 1 - 1347 / 1440, (2138 - 137) / 2160, (1347 - 21) / 1440])

for k in K_TICKS[1:-1]:
    ax.axvline(k, color='black', alpha=0.5, lw=1.5)

draw_bands(ax, BANDS_GAMMA_X)
draw_bands(ax, BANDS_X_S)
draw_bands(ax, BANDS_S_R)
draw_bands(ax, BANDS_R_Z, 2)
draw_bands(ax, BANDS_Z_A1)
draw_bands(ax, BANDS_A1_T, 2)
draw_bands(ax, BANDS_T_Y)
draw_bands(ax, BANDS_Z_T, 2)
for e0, e1 in zip(JUMP_FROM, JUMP_TO):
    ax.plot([JUMP_K, JUMP_K], [e0, e1], color=BAND_COLOR, alpha=BAND_ALPHA, lw=BAND_LW)

ax.set_xlim(K_TICKS[0], K_TICKS[-1])
ax.set_ylim(-5, 5)
ax.set_xticks(K_TICKS)
ax.set_xticklabels(K_LABELS)
ax.set_yticks([-4, -2, 0, 2, 4])
ax.yaxis.set_minor_locator(MultipleLocator(1))
ax.tick_params(axis='both', which='major', length=12, width=2.5, labelsize=29, pad=10)
ax.tick_params(axis='y', which='minor', length=6, width=2)
ax.set_ylabel('Energy [eV]', fontsize=29, labelpad=12)
for spine in ax.spines.values():
    spine.set_linewidth(2.5)

fig.savefig('out.png', dpi=100)
